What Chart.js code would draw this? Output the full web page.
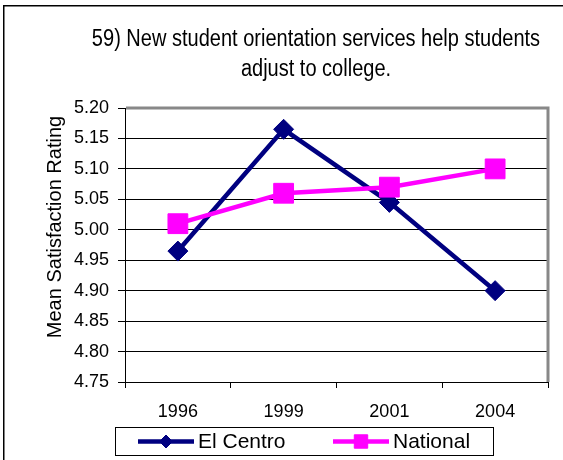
<!DOCTYPE html>
<html><head><meta charset="utf-8">
<script src="https://cdn.jsdelivr.net/npm/chart.js@4/dist/chart.umd.min.js"></script>
<style>html,body{margin:0;padding:0;background:#fff;overflow:hidden}canvas{display:block}</style>
</head><body>
<canvas id="c" width="563" height="460"></canvas>
<script>
const categories = ['1996', '1999', '2001', '2004'];
const elCentro = [4.965, 5.165, 5.045, 4.90];
const national = [5.01, 5.06, 5.07, 5.10];
const yTicks = [4.75, 4.80, 4.85, 4.90, 4.95, 5.00, 5.05, 5.10, 5.15, 5.20];
const titleLines = ['59) New student orientation services help students', 'adjust to college.'];
const yTitle = 'Mean Satisfaction Rating';
const seriesNames = ['El Centro', 'National'];

const SANS = "'Liberation Sans',Arial,sans-serif";

const decor = {
  id: 'decor',
  beforeDraw(chart) {
    const ctx = chart.ctx;
    ctx.save();
    ctx.fillStyle = '#fff';
    ctx.fillRect(0, 0, chart.width, chart.height);
    ctx.fillStyle = '#000';
    ctx.fillRect(3, 5, chart.width, 1.5);
    ctx.fillRect(3, 5, 1.5, chart.height);
    ctx.restore();
  },
  beforeDatasetsDraw(chart) {
    const { ctx, chartArea: a } = chart;
    ctx.save();
    ctx.strokeStyle = '#888';
    ctx.lineWidth = 3;
    ctx.beginPath();
    ctx.moveTo(a.left + 1, a.top);
    ctx.lineTo(a.right, a.top);
    ctx.lineTo(a.right, a.bottom);
    ctx.stroke();
    ctx.restore();
  },
  afterDraw(chart) {
    const ctx = chart.ctx;
    ctx.save();
    // title (condensed like Arial Narrow)
    ctx.fillStyle = '#000';
    ctx.textAlign = 'center';
    ctx.textBaseline = 'alphabetic';
    ctx.font = '23px ' + SANS;
    [[titleLines[0], 46], [titleLines[1], 76]].forEach(([t, y]) => {
      ctx.save();
      ctx.translate(316, y);
      ctx.scale(0.87, 1);
      ctx.fillText(t, 0, 0);
      ctx.restore();
    });
    // y axis title
    ctx.save();
    ctx.translate(61, 227);
    ctx.rotate(-Math.PI / 2);
    ctx.font = '20px ' + SANS;
    ctx.fillText(yTitle, 0, 0);
    ctx.restore();
    // legend
    ctx.strokeStyle = '#000';
    ctx.lineWidth = 1;
    ctx.strokeRect(115.5, 427.5, 378, 28);
    const items = [{ x0: 138, x1: 194, tx: 198 }, { x0: 333, x1: 389, tx: 393 }];
    const ly = 441.5;
    chart.data.datasets.forEach((ds, i) => {
      const it = items[i];
      ctx.strokeStyle = ds.borderColor;
      ctx.lineWidth = 4.5;
      ctx.lineCap = 'butt';
      ctx.beginPath();
      ctx.moveTo(it.x0, ly);
      ctx.lineTo(it.x1, ly);
      ctx.stroke();
      ctx.fillStyle = ds.backgroundColor;
      ctx.strokeStyle = ds.borderColor;
      ctx.lineWidth = 1;
      Chart.helpers.drawPoint(ctx, { pointStyle: ds.pointStyle, rotation: 0, borderWidth: 1, radius: ds.pointStyle === 'rect' ? 9.5 : 6.5 }, (it.x0 + it.x1) / 2, ly);
      ctx.fillStyle = '#000';
      ctx.textAlign = 'left';
      ctx.textBaseline = 'middle';
      ctx.font = '21px ' + SANS;
      ctx.fillText(seriesNames[i], it.tx, ly + 1);
    });
    ctx.restore();
  }
};

new Chart(document.getElementById('c'), {
  type: 'line',
  data: {
    labels: categories,
    datasets: [
      {
        label: seriesNames[0], data: elCentro,
        borderColor: '#000080', backgroundColor: '#000080',
        borderWidth: 4.5, pointStyle: 'rectRot', pointRadius: 10, pointHoverRadius: 10,
        pointBorderWidth: 1, tension: 0, order: 1
      },
      {
        label: seriesNames[1], data: national,
        borderColor: '#FF00FF', backgroundColor: '#FF00FF',
        borderWidth: 4.5, pointStyle: 'rect', pointRadius: 14, pointHoverRadius: 14,
        pointBorderWidth: 1, tension: 0, order: 0
      }
    ]
  },
  options: {
    responsive: false,
    animation: false,
    devicePixelRatio: 1,
    layout: { padding: { top: 108, right: 13, bottom: 0, left: 0 } },
    plugins: { legend: { display: false }, title: { display: false }, tooltip: { enabled: false } },
    scales: {
      x: {
        offset: true,
        grid: { display: true, offset: true, drawOnChartArea: false, drawTicks: true, tickLength: 6, color: '#000', tickColor: '#000', lineWidth: 1 },
        border: { color: '#000', width: 1 },
        ticks: { color: '#000', font: { family: SANS, size: 18 }, padding: 13, maxRotation: 0, autoSkip: false },
        afterFit(s) { s.height = 78; }
      },
      y: {
        min: 4.75, max: 5.20,
        afterBuildTicks(s) { s.ticks = yTicks.map(v => ({ value: v })); },
        grid: { color: '#000', lineWidth: 1, tickLength: 7, tickColor: '#000' },
        border: { color: '#000', width: 1 },
        ticks: { color: '#000', font: { family: SANS, size: 18 }, padding: 9, callback: v => (+v).toFixed(2) },
        afterFit(s) { s.width = 125; }
      }
    }
  },
  plugins: [decor]
});
</script>
</body></html>
